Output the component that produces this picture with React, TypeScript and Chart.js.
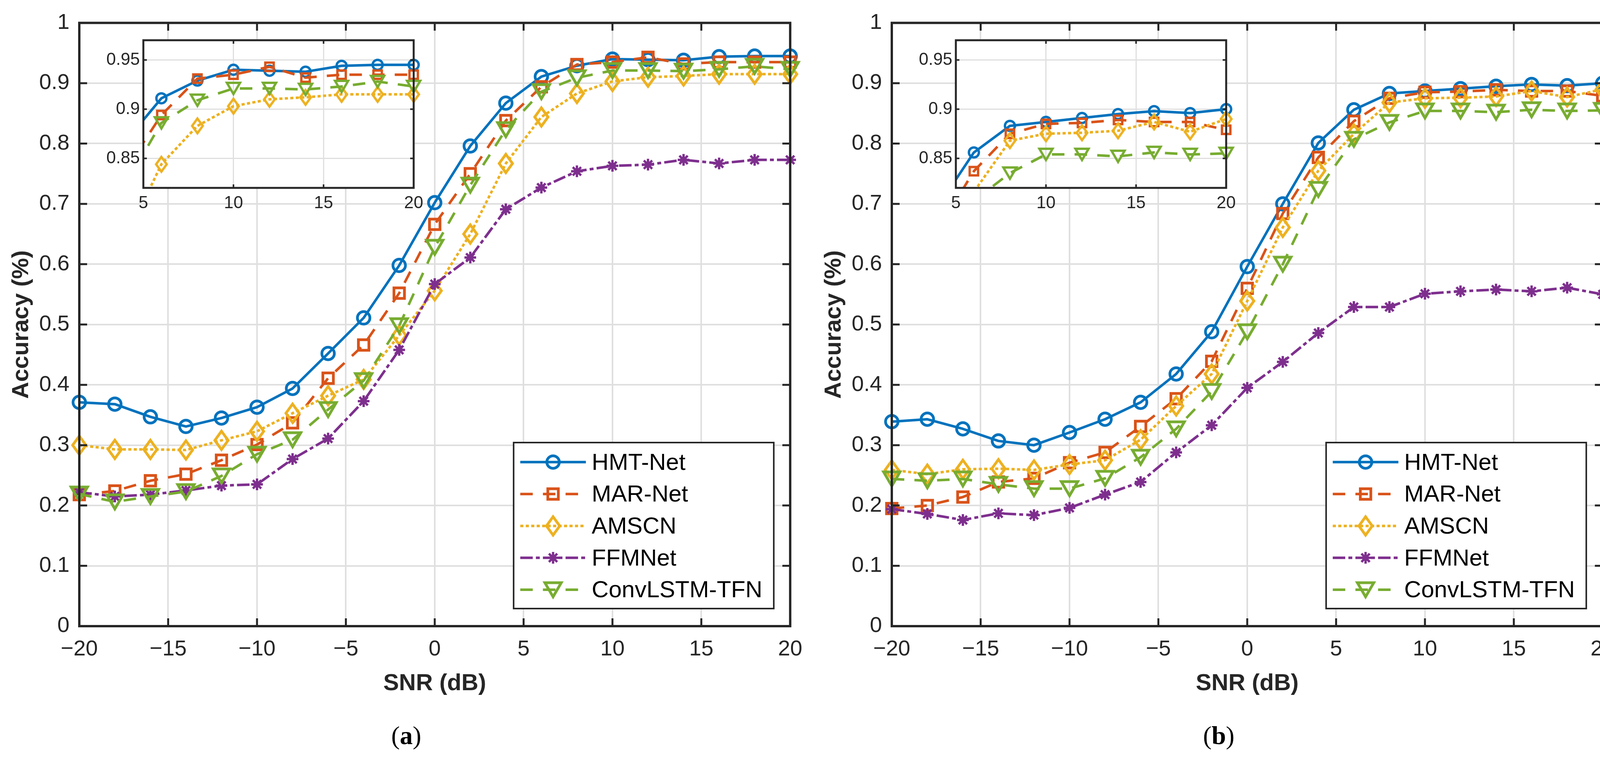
import { useEffect, useRef } from 'react';
import { Chart, registerables } from 'chart.js';
import { drawPoint } from 'chart.js/helpers';

Chart.register(...registerables);

// SNR grid shared by both panels
const snr = [-20, -18, -16, -14, -12, -10, -8, -6, -4, -2, 0, 2, 4, 6, 8, 10, 12, 14, 16, 18, 20];

// panel (a)
const hmtA = [0.371, 0.368, 0.347, 0.331, 0.345, 0.363, 0.394, 0.452, 0.511, 0.598, 0.702, 0.796, 0.867, 0.911, 0.929, 0.940, 0.939, 0.938, 0.944, 0.945, 0.945];
const marA = [0.218, 0.224, 0.241, 0.252, 0.275, 0.301, 0.337, 0.411, 0.466, 0.552, 0.666, 0.750, 0.838, 0.894, 0.931, 0.935, 0.943, 0.932, 0.935, 0.935, 0.935];
const amscnA = [0.300, 0.293, 0.293, 0.292, 0.308, 0.323, 0.353, 0.382, 0.409, 0.482, 0.556, 0.650, 0.767, 0.844, 0.883, 0.903, 0.910, 0.912, 0.915, 0.915, 0.915];
const ffmA = [0.222, 0.215, 0.218, 0.225, 0.233, 0.235, 0.277, 0.311, 0.373, 0.458, 0.567, 0.611, 0.691, 0.727, 0.754, 0.763, 0.765, 0.773, 0.767, 0.773, 0.773];
const convA = [0.219, 0.206, 0.215, 0.223, 0.249, 0.285, 0.309, 0.359, 0.407, 0.498, 0.628, 0.731, 0.823, 0.886, 0.909, 0.921, 0.921, 0.920, 0.923, 0.928, 0.923];

// panel (b)
const hmtB = [0.339, 0.343, 0.327, 0.307, 0.300, 0.321, 0.343, 0.371, 0.418, 0.488, 0.596, 0.700, 0.801, 0.856, 0.883, 0.887, 0.891, 0.895, 0.898, 0.896, 0.900];
const marB = [0.195, 0.200, 0.214, 0.239, 0.245, 0.271, 0.288, 0.331, 0.377, 0.439, 0.560, 0.684, 0.777, 0.837, 0.875, 0.885, 0.886, 0.889, 0.887, 0.887, 0.879];
const amscnB = [0.259, 0.252, 0.260, 0.261, 0.259, 0.268, 0.275, 0.309, 0.365, 0.418, 0.539, 0.661, 0.755, 0.816, 0.868, 0.875, 0.876, 0.878, 0.887, 0.877, 0.890];
const ffmB = [0.194, 0.186, 0.176, 0.187, 0.184, 0.196, 0.218, 0.239, 0.288, 0.333, 0.395, 0.438, 0.486, 0.529, 0.529, 0.551, 0.555, 0.558, 0.555, 0.561, 0.550];
const convB = [0.244, 0.241, 0.244, 0.235, 0.228, 0.228, 0.245, 0.280, 0.327, 0.389, 0.488, 0.600, 0.724, 0.807, 0.835, 0.854, 0.854, 0.852, 0.856, 0.854, 0.855];

const names = ['HMT-Net', 'MAR-Net', 'AMSCN', 'FFMNet', 'ConvLSTM-TFN'];
const colors = ['#0072BD', '#D95319', '#EDB120', '#7E2F8E', '#77AC30'];
const dashes = [[], [32, 26], [8, 6], [32, 8, 10, 8], [32, 26]];

const mainXTicks = [-20, -15, -10, -5, 0, 5, 10, 15, 20];
const mainYTicks = [0, 0.1, 0.2, 0.3, 0.4, 0.5, 0.6, 0.7, 0.8, 0.9, 1];
const insetXTicks = [5, 10, 15, 20];
const insetYTicks = [0.85, 0.9, 0.95];

const FONT = "'Liberation Sans', Arial, Helvetica, sans-serif";
const INK = '#262626';
const GRID = '#dfdfdf';
const LINE_W = 6.5;

type Marker = { style: any; radius: number; width: number };

function diamond(color: string, s: number, lw: number) {
  const w = 34 * s, h = 47 * s;
  const c = document.createElement('canvas');
  c.width = Math.ceil(w + lw * 4);
  c.height = Math.ceil(h + lw * 4);
  const g = c.getContext('2d')!;
  const cx = c.width / 2, cy = c.height / 2;
  g.strokeStyle = color;
  g.lineWidth = lw;
  g.beginPath();
  g.moveTo(cx, cy - h / 2);
  g.lineTo(cx + w / 2, cy);
  g.lineTo(cx, cy + h / 2);
  g.lineTo(cx - w / 2, cy);
  g.closePath();
  g.stroke();
  return c;
}

function triangleDown(color: string, s: number, lw: number) {
  const w = 42 * s, h = 36 * s;
  const c = document.createElement('canvas');
  c.width = Math.ceil(w + lw * 4);
  c.height = Math.ceil(h + lw * 4);
  const g = c.getContext('2d')!;
  const cx = c.width / 2, cy = c.height / 2;
  g.strokeStyle = color;
  g.lineWidth = lw;
  g.beginPath();
  g.moveTo(cx - w / 2, cy - h / 2);
  g.lineTo(cx + w / 2, cy - h / 2);
  g.lineTo(cx, cy + h / 2);
  g.closePath();
  g.stroke();
  return c;
}

function buildMarkers(s: number, lw: number): Marker[] {
  return [
    { style: 'circle', radius: 16 * s, width: lw },
    { style: 'rect', radius: 19 * s, width: lw },
    { style: diamond(colors[2], s, lw), radius: 20 * s, width: lw },
    { style: 'star', radius: 15 * s, width: lw - 1 },
    { style: triangleDown(colors[4], s, lw), radius: 20 * s, width: lw },
  ];
}

const fmt = (v: any) => {
  const n = Number(v);
  return n < 0 ? '\u2212' + String(-n) : String(n);
};

const inInset = (p: any) => p && p.x >= 5 && p.x <= 20 && p.y >= 0.82 && p.y <= 0.97;

function makeDatasets(series: number[][], marks: Marker[], inset: boolean) {
  return series.map((vals, i) => ({
    label: names[i],
    data: snr.map((x, k) => ({ x, y: vals[k] })),
    borderColor: colors[i],
    borderWidth: LINE_W,
    borderDash: dashes[i],
    borderCapStyle: 'butt',
    borderJoinStyle: 'round',
    pointStyle: marks[i].style,
    pointRadius: inset ? (c: any) => (inInset(c.raw) ? marks[i].radius : 0) : marks[i].radius,
    pointHoverRadius: marks[i].radius,
    pointBorderWidth: marks[i].width,
    pointBorderColor: colors[i],
    pointBackgroundColor: 'rgba(0,0,0,0)',
    tension: 0,
    clip: inset ? { left: 0, top: 40, right: 40, bottom: 0 } : false,
    order: series.length - i,
  }));
}

// box round the plot area and inward tick marks on all four sides
const framePlugin = (tickLen: number, boxWidth: number, tickWidth: number) => ({
  id: 'frame',
  afterDatasetsDraw(chart: any) {
    const { ctx, chartArea: a, scales } = chart;
    ctx.save();
    ctx.setLineDash([]);
    ctx.strokeStyle = INK;
    ctx.lineWidth = tickWidth;
    ctx.beginPath();
    for (const t of scales.x.ticks) {
      const px = scales.x.getPixelForValue(t.value);
      ctx.moveTo(px, a.bottom);
      ctx.lineTo(px, a.bottom - tickLen);
      ctx.moveTo(px, a.top);
      ctx.lineTo(px, a.top + tickLen);
    }
    for (const t of scales.y.ticks) {
      const py = scales.y.getPixelForValue(t.value);
      ctx.moveTo(a.left, py);
      ctx.lineTo(a.left + tickLen, py);
      ctx.moveTo(a.right, py);
      ctx.lineTo(a.right - tickLen, py);
    }
    ctx.stroke();
    ctx.lineWidth = boxWidth;
    ctx.strokeRect(a.left, a.top, a.right - a.left, a.bottom - a.top);
    ctx.restore();
  },
});

const legendPlugin = (marks: Marker[]) => ({
  id: 'legendBox',
  afterDraw(chart: any) {
    const { ctx, chartArea: a } = chart;
    const bx = a.right - 708, by = a.bottom - 470, bw = 666, bh = 425;
    ctx.save();
    ctx.fillStyle = '#fff';
    ctx.fillRect(bx, by, bw, bh);
    ctx.strokeStyle = INK;
    ctx.lineWidth = 4;
    ctx.setLineDash([]);
    ctx.strokeRect(bx, by, bw, bh);
    names.forEach((name, i) => {
      const y = by + 50 + i * 81.7;
      ctx.strokeStyle = colors[i];
      ctx.lineWidth = LINE_W;
      ctx.lineCap = 'butt';
      ctx.setLineDash(dashes[i]);
      ctx.beginPath();
      ctx.moveTo(bx + 17, y);
      ctx.lineTo(bx + 185, y);
      ctx.stroke();
      ctx.setLineDash([]);
      ctx.lineWidth = marks[i].width;
      ctx.fillStyle = 'rgba(0,0,0,0)';
      drawPoint(ctx, { pointStyle: marks[i].style, radius: marks[i].radius, rotation: 0, borderWidth: marks[i].width } as any, bx + 101, y);
      ctx.fillStyle = '#000';
      ctx.font = `60px ${FONT}`;
      ctx.textAlign = 'left';
      ctx.textBaseline = 'middle';
      ctx.fillText(name, bx + 200, y + 3);
    });
    ctx.restore();
  },
});

const whiteArea = {
  id: 'whiteArea',
  beforeDraw(chart: any) {
    const { ctx, chartArea: a } = chart;
    ctx.save();
    ctx.fillStyle = '#fff';
    ctx.fillRect(a.left, a.top, a.right - a.left, a.bottom - a.top);
    ctx.restore();
  },
};

function mainConfig(series: number[][], marks: Marker[]): any {
  return {
    type: 'line',
    data: { datasets: makeDatasets(series, marks, false) },
    options: {
      animation: false,
      responsive: false,
      devicePixelRatio: 1,
      events: [],
      layout: { padding: { left: 0, top: 54, right: 36, bottom: 0 } },
      plugins: { legend: { display: false }, tooltip: { enabled: false } },
      scales: {
        x: {
          type: 'linear',
          min: -20,
          max: 20,
          afterBuildTicks: (s: any) => { s.ticks = mainXTicks.map((value) => ({ value })); },
          afterFit: (s: any) => { s.height = 335; },
          ticks: { font: { family: FONT, size: 56 }, color: INK, padding: 26, maxRotation: 0, autoSkip: false, callback: fmt },
          grid: { color: GRID, lineWidth: 4, drawTicks: false },
          border: { display: false },
          title: { display: true, text: 'SNR (dB)', color: INK, font: { family: FONT, size: 60, weight: 'bold' }, padding: { top: 0, bottom: 152 } },
        },
        y: {
          type: 'linear',
          min: 0,
          max: 1,
          afterBuildTicks: (s: any) => { s.ticks = mainYTicks.map((value) => ({ value })); },
          afterFit: (s: any) => { s.width = 203; },
          ticks: { font: { family: FONT, size: 56 }, color: INK, padding: 25, autoSkip: false, callback: fmt },
          grid: { color: GRID, lineWidth: 4, drawTicks: false },
          border: { display: false },
          title: { display: true, text: 'Accuracy (%)', color: INK, font: { family: FONT, size: 60, weight: 'bold' }, padding: { top: 19, bottom: 0 } },
        },
      },
    },
    plugins: [framePlugin(20, 6, 5), legendPlugin(marks)],
  };
}

function insetConfig(series: number[][], marks: Marker[]): any {
  return {
    type: 'line',
    data: { datasets: makeDatasets(series, marks, true) },
    options: {
      animation: false,
      responsive: false,
      devicePixelRatio: 1,
      events: [],
      layout: { padding: { left: 0, top: 43, right: 41, bottom: 0 } },
      plugins: { legend: { display: false }, tooltip: { enabled: false } },
      scales: {
        x: {
          type: 'linear',
          min: 5,
          max: 20,
          afterBuildTicks: (s: any) => { s.ticks = insetXTicks.map((value) => ({ value })); },
          afterFit: (s: any) => { s.height = 79; },
          ticks: { font: { family: FONT, size: 44 }, color: INK, padding: 13, maxRotation: 0, autoSkip: false, callback: fmt },
          grid: { color: GRID, lineWidth: 3, drawTicks: false },
          border: { display: false },
        },
        y: {
          type: 'linear',
          min: 0.82,
          max: 0.97,
          afterBuildTicks: (s: any) => { s.ticks = insetYTicks.map((value) => ({ value })); },
          afterFit: (s: any) => { s.width = 117; },
          ticks: { font: { family: FONT, size: 44 }, color: INK, padding: 9, autoSkip: false, callback: fmt },
          grid: { color: GRID, lineWidth: 3, drawTicks: false },
          border: { display: false },
        },
      },
    },
    plugins: [whiteArea, framePlugin(9, 5, 4)],
  };
}

function Panel({ series, tag, left }: { series: number[][]; tag: string; left: number }) {
  const mainRef = useRef<HTMLCanvasElement>(null);
  const insetRef = useRef<HTMLCanvasElement>(null);

  useEffect(() => {
    if (!mainRef.current || !insetRef.current) return;
    const main = new Chart(mainRef.current, mainConfig(series, buildMarkers(1, 7)));
    const inset = new Chart(insetRef.current, insetConfig(series, buildMarkers(0.8, 6)));
    return () => {
      main.destroy();
      inset.destroy();
    };
  }, [series]);

  return (
    <div style={{ position: 'absolute', left, top: 0, width: 2080, height: 1938 }}>
      <canvas ref={mainRef} width={2080} height={1938} style={{ position: 'absolute', left: 0, top: 0 }} />
      <canvas ref={insetRef} width={850} height={500} style={{ position: 'absolute', left: 250, top: 60 }} />
      <div
        style={{
          position: 'absolute',
          left: 0,
          top: 1850,
          width: 2080,
          textAlign: 'center',
          fontFamily: "'Liberation Serif', 'Times New Roman', serif",
          fontSize: 66,
          lineHeight: '66px',
          color: '#000',
        }}
      >
        (<b>{tag}</b>)
      </div>
    </div>
  );
}

const seriesA = [hmtA, marA, amscnA, ffmA, convA];
const seriesB = [hmtB, marB, amscnB, ffmB, convB];

export default function App() {
  return (
    <div style={{ position: 'fixed', left: 0, top: 0, width: 4173, height: 1938, background: '#fff', overflow: 'hidden' }}>
      <Panel series={seriesA} tag="a" left={0} />
      <Panel series={seriesB} tag="b" left={2080} />
    </div>
  );
}
